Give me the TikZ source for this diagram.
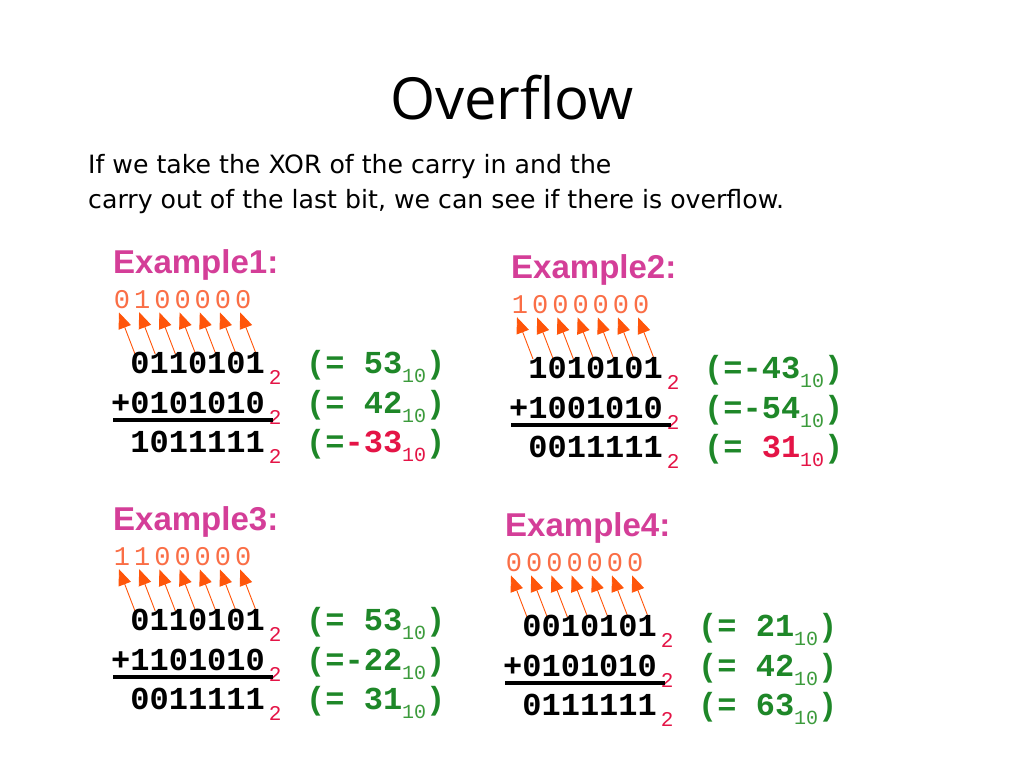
\documentclass[tikz,border=0pt]{standalone}
\usepackage{fontspec}
\setmainfont{DejaVu Sans}
\newfontfamily\titlefont{Open Sans}
\newfontfamily\monofont{Liberation Mono}
\newfontfamily\headfont{Liberation Sans}
\usetikzlibrary{arrows.meta}
\definecolor{hdmag}{RGB}{212,62,152}
\definecolor{carryor}{RGB}{250,110,70}
\definecolor{arrowor}{RGB}{255,85,10}
\definecolor{decgreen}{RGB}{30,135,40}
\definecolor{subgreen}{RGB}{60,155,60}
\definecolor{ovred}{RGB}{228,20,70}
\newcommand\subtwo{\hspace{4pt}\raisebox{-11pt}{\monofont\mdseries\fontsize{21}{21}\selectfont\color{ovred}2}}
\newcommand\subten[1][subgreen]{\raisebox{-9pt}{\monofont\mdseries\fontsize{20}{20}\selectfont\color{#1}10}}
\tikzset{
  hdr/.style={anchor=base west, inner sep=0pt, font=\headfont\bfseries\fontsize{33}{33}\selectfont, text=hdmag},
  carry/.style={anchor=base, inner sep=0pt, font=\monofont\fontsize{27}{27}\selectfont, text=carryor},
  carryarrow/.style={draw=arrowor, line width=0.9pt, -{Triangle[length=16pt,width=13pt]}},
  binrow/.style={anchor=base west, inner sep=0pt, font=\monofont\bfseries\fontsize{32}{32}\selectfont},
  decrow/.style={anchor=base west, inner sep=0pt, font=\monofont\bfseries\fontsize{32}{32}\selectfont, text=decgreen},
  sumline/.style={line width=3.5pt},
  bodytext/.style={anchor=base west, inner sep=0pt, font=\fontsize{25.2}{25.2}\selectfont}
}
\newcommand\example[9]{%
  \node[hdr] (#1h) at (-2,23) {#2};
  \foreach \c [count=\i from 0] in {#3} {
    \node[carry] (#1c\i) at ({7+20.2*\i},58) {\c};
    \coordinate (#1t\i) at ({20+20.2*\i},104);
    \draw[carryarrow] (#1t\i) -- ([xshift=-3pt,yshift=-4pt]#1c\i.south);
  }
  \node[binrow] (#1r1) at (-4,123) {\phantom{+}#4\subtwo};
  \node[binrow] (#1r2) at (-4,163) {+#5\subtwo};
  \node[binrow] (#1r3) at (-4,202) {\phantom{+}#6\subtwo};
  \draw[sumline] (-2,170) -- (158,170);
  \node[decrow] (#1d1) at (191,123) {#7};
  \node[decrow] (#1d2) at (191,163) {#8};
  \node[decrow] (#1d3) at (191,202) {#9};
}
\begin{document}
\begin{tikzpicture}[x=1pt,y=-1pt]
\useasboundingbox (0,0) rectangle (1024,768);
\fill[white] (0,0) rectangle (1024,768);
\node[anchor=base, inner sep=0pt, font=\titlefont\fontsize{58}{58}\selectfont] (title) at (512,119) {Overflow};
\node[bodytext] (l1) at (88,173) {If we take the XOR of the carry in and the};
\node[bodytext] (l2) at (88,208) {carry out of the last bit, we can see if there is overflow.};
\begin{scope}[shift={(115,250)}]
\example{ea}{Example1:}{0,1,0,0,0,0,0}{0110101}{0101010}{1011111}{(= 53\subten)}{(= 42\subten)}{(={\color{ovred}-33}\subten[ovred])}
\end{scope}
\begin{scope}[shift={(513,255)}]
\example{eb}{Example2:}{1,0,0,0,0,0,0}{1010101}{1001010}{0011111}{(=-43\subten)}{(=-54\subten)}{(= {\color{ovred}31}\subten[ovred])}
\end{scope}
\begin{scope}[shift={(115,507)}]
\example{ec}{Example3:}{1,1,0,0,0,0,0}{0110101}{1101010}{0011111}{(= 53\subten)}{(=-22\subten)}{(= 31\subten)}
\end{scope}
\begin{scope}[shift={(507,513)}]
\example{ed}{Example4:}{0,0,0,0,0,0,0}{0010101}{0101010}{0111111}{(= 21\subten)}{(= 42\subten)}{(= 63\subten)}
\end{scope}
\end{tikzpicture}
\end{document}
